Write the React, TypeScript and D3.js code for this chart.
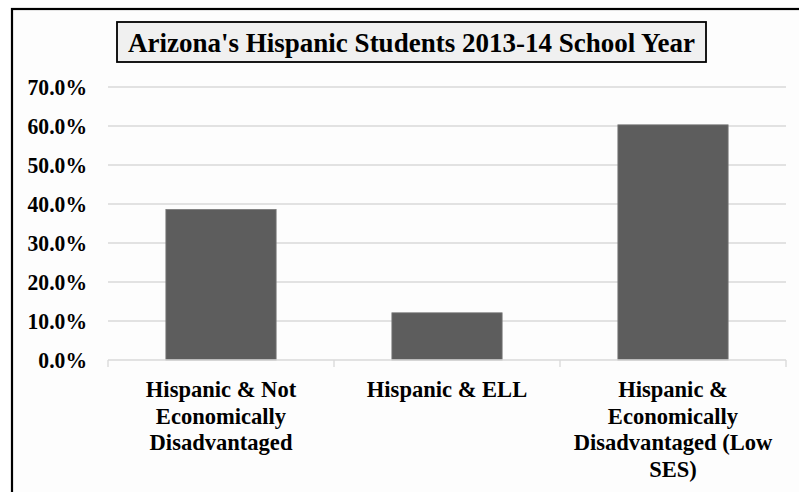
import React from "react";
import * as d3 from "d3";

const categories: string[][] = [
  ["Hispanic & Not", "Economically", "Disadvantaged"],
  ["Hispanic & ELL"],
  ["Hispanic &", "Economically", "Disadvantaged (Low", "SES)"],
];
const values: number[] = [0.386, 0.121, 0.603];
const yTicks: number[] = [0, 0.1, 0.2, 0.3, 0.4, 0.5, 0.6, 0.7];
const title = "Arizona's Hispanic Students 2013-14 School Year";

const W = 799;
const H = 492;
const FONT = "'Liberation Serif', 'Times New Roman', serif";
const NARROW = 0.94;

export default function App() {
  const plotLeft = 108;
  const plotRight = 786;
  const plotTop = 87;
  const plotBottom = 360;

  const keys = categories.map((_, i) => String(i));
  const x = d3.scaleBand<string>().domain(keys).range([plotLeft, plotRight]).paddingInner(0).paddingOuter(0);
  const y = d3.scaleLinear().domain([0, 0.7]).range([plotBottom, plotTop]);
  const gapWidth = 1.05;
  const barW = x.bandwidth() / (1 + gapWidth);
  const fmt = d3.format(".1%");

  const boundaries = [...keys.map((k) => x(k)!), plotRight];

  return (
    <div style={{ position: "absolute", left: 0, top: 0 }}>
      <svg width={W} height={H} style={{ display: "block" }}>
        <rect x={0} y={0} width={W} height={H} fill="#ffffff" />
        <rect x={12} y={9} width={W + 20} height={H + 20} fill="#fdfdfd" stroke="#000" strokeWidth={2.2} />

        {/* gridlines */}
        {yTicks.slice(1).map((t) => (
          <line key={t} x1={plotLeft} x2={plotRight} y1={y(t)} y2={y(t)} stroke="#d9d9d9" strokeWidth={1.3} />
        ))}

        {/* bars */}
        {values.map((v, i) => {
          const bx = x(keys[i])! + (x.bandwidth() - barW) / 2;
          return (
            <rect
              key={i}
              x={bx}
              y={y(v)}
              width={barW}
              height={y(0) - y(v)}
              fill="#5d5d5d"
              stroke="#7a7a7a"
              strokeWidth={0.8}
            />
          );
        })}

        {/* category axis */}
        <line x1={plotLeft} x2={plotRight} y1={plotBottom} y2={plotBottom} stroke="#d9d9d9" strokeWidth={1.3} />
        {boundaries.map((bx, i) => (
          <line key={i} x1={bx} x2={bx} y1={plotBottom} y2={plotBottom + 7} stroke="#d9d9d9" strokeWidth={1.3} />
        ))}

        {/* value axis labels */}
        {yTicks.map((t) => (
          <text
            key={t}
            transform={`translate(87,${y(t)}) scale(${NARROW},1)`}
            dy="0.36em"
            textAnchor="end"
            fontFamily={FONT}
            fontWeight="bold"
            fontSize={23}
            fill="#000"
          >
            {fmt(t)}
          </text>
        ))}

        {/* category labels */}
        {categories.map((lines, i) => {
          const cx = x(keys[i])! + x.bandwidth() / 2;
          return lines.map((ln, j) => (
            <text
              key={`${i}-${j}`}
              transform={`translate(${cx},${397 + j * 26.5}) scale(${NARROW},1)`}
              textAnchor="middle"
              fontFamily={FONT}
              fontWeight="bold"
              fontSize={24}
              fill="#000"
            >
              {ln}
            </text>
          ));
        })}

        {/* title */}
        <rect x={117} y={22} width={589} height={40} fill="#f0f0f0" stroke="#000" strokeWidth={1.8} />
        <text
          x={411.5}
          y={52}
          textAnchor="middle"
          fontFamily={FONT}
          fontWeight="bold"
          fontSize={28}
          fill="#000"
          textLength={567}
          lengthAdjust="spacingAndGlyphs"
        >
          {title}
        </text>
      </svg>
    </div>
  );
}
